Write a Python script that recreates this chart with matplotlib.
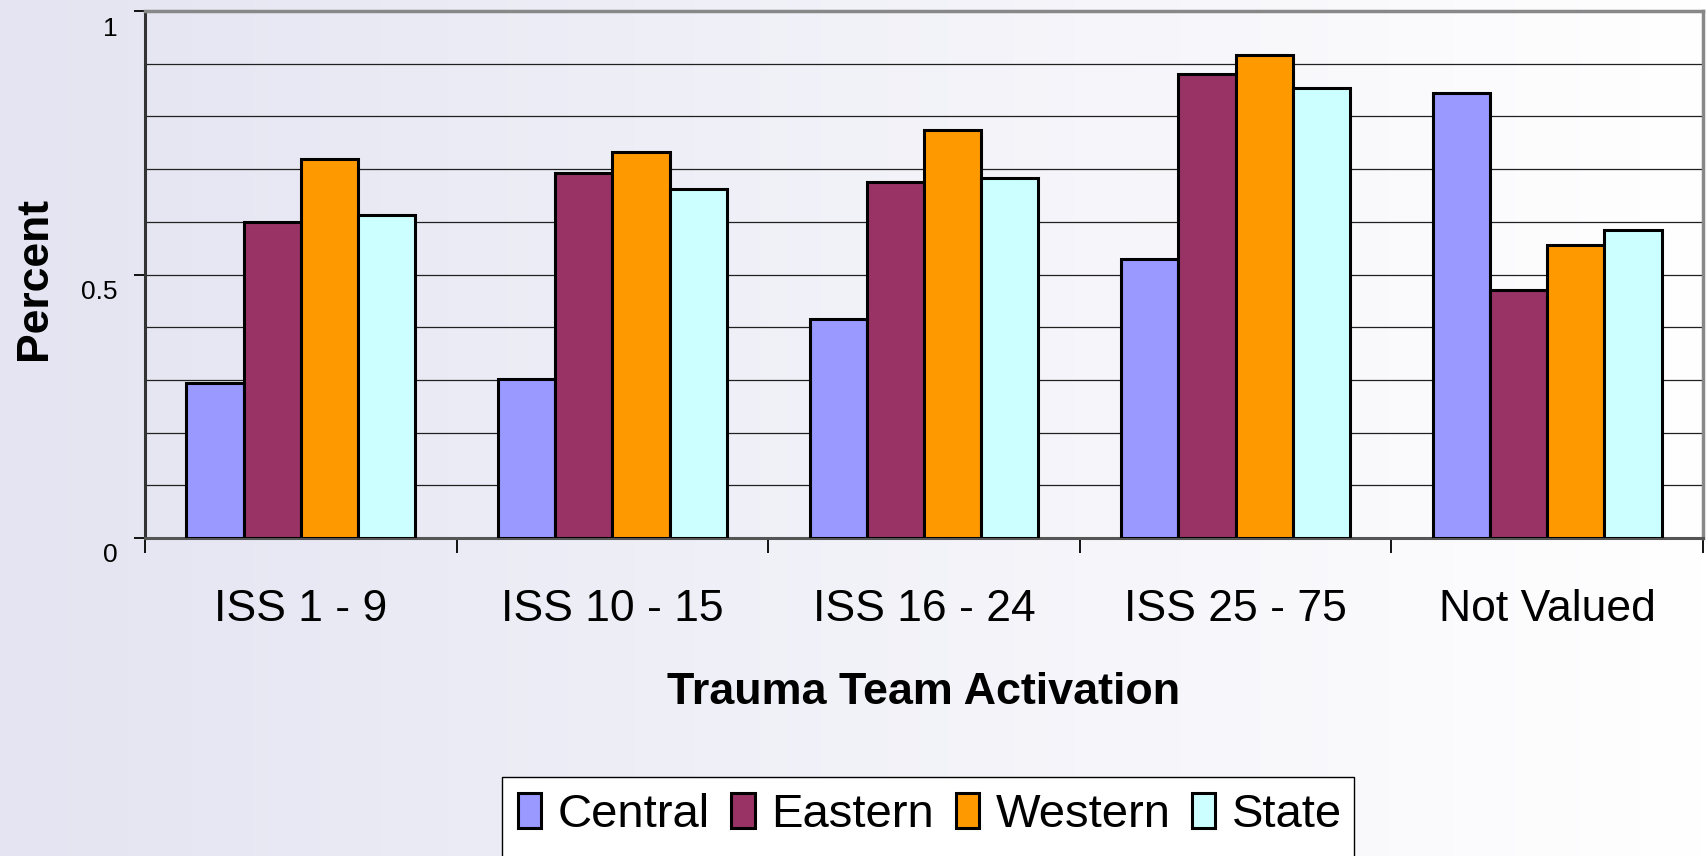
import numpy as np
import matplotlib
matplotlib.use("Agg")
import matplotlib.pyplot as plt
from matplotlib.patches import Rectangle
from matplotlib.transforms import ScaledTranslation

categories = ["ISS 1 - 9", "ISS 10 - 15", "ISS 16 - 24", "ISS 25 - 75", "Not Valued"]
central = [0.295, 0.302, 0.415, 0.529, 0.845]
eastern = [0.599, 0.692, 0.676, 0.880, 0.471]
western = [0.719, 0.733, 0.775, 0.917, 0.556]
state = [0.612, 0.663, 0.684, 0.853, 0.585]
series_names = ["Central", "Eastern", "Western", "State"]
colors = ["#9999FF", "#993366", "#FF9900", "#CCFFFF"]

plt.rcParams['font.family'] = ['Liberation Sans', 'DejaVu Sans']

fig = plt.figure(figsize=(17.08, 8.56), dpi=100)

# background gradient, lavender on the left fading to white on the right
bg = fig.add_axes([0, 0, 1, 1], zorder=-10)
grad = np.linspace(0, 1, 256).reshape(1, -1)
c0 = np.array([228, 228, 242]) / 255.0
c1 = np.array([255, 255, 255]) / 255.0
img = c0[None, None, :] * (1 - grad[..., None]) + c1[None, None, :] * grad[..., None]
bg.imshow(img, aspect='auto', extent=[0, 1, 0, 1])
bg.set_axis_off()

ax = fig.add_axes([145 / 1708, 1 - 538 / 856, (1703 - 145) / 1708, (538 - 11) / 856])
ax.patch.set_alpha(0)

x = np.arange(len(categories))
w = 0.1835
all_vals = [central, eastern, western, state]
for i, (vals, name, col) in enumerate(zip(all_vals, series_names, colors)):
    ax.bar(x + (i - 1.5) * w, vals, width=w, color=col, edgecolor='black',
           linewidth=2.2, label=name, zorder=3)

ax.set_xlim(-0.5, len(categories) - 0.5)
ax.set_ylim(0, 1)

# horizontal gridlines every 0.1
for g in np.arange(0.1, 1.0, 0.1):
    ax.axhline(g, color='#202020', linewidth=0.9, zorder=1)

ax.set_yticks([0, 0.5, 1])
ax.set_yticklabels(["0", "0.5", "1"], fontsize=19)
ax.tick_params(axis='y', length=8, width=1.3, color='black', pad=12)
# Excel drew the value labels a little below their ticks
for lab in ax.get_yticklabels():
    lab.set_transform(lab.get_transform() + ScaledTranslation(0, -15 / 100, fig.dpi_scale_trans))

ax.set_xticks(np.arange(-0.5, len(categories), 1.0))
ax.set_xticklabels([])
ax.set_xticks(x, minor=True)
ax.set_xticklabels(categories, minor=True, fontsize=32)
ax.tick_params(axis='x', which='major', length=11, width=1.3, color='black', direction='out')
ax.tick_params(axis='x', which='minor', length=0, pad=37)

for s in ['top', 'right']:
    ax.spines[s].set_color('#888888')
    ax.spines[s].set_linewidth(2.5)
ax.spines['left'].set_color('#333333')
ax.spines['left'].set_linewidth(2.2)
ax.spines['bottom'].set_color('#555555')
ax.spines['bottom'].set_linewidth(2.2)

ax.set_ylabel("Percent", fontsize=32, fontweight='bold')
ax.yaxis.set_label_coords(-0.058, 0.493)
ax.set_xlabel("Trauma Team Activation", fontsize=32.3, fontweight='bold', labelpad=30)

# legend box runs off the bottom edge of the figure
fig.patches.append(Rectangle((502 / 1708, -0.05), (1354 - 502) / 1708, 0.05 + (856 - 777) / 856,
                             transform=fig.transFigure, facecolor='white',
                             edgecolor='black', linewidth=1.0, zorder=0))
handles, labels = ax.get_legend_handles_labels()
leg = fig.legend(handles, labels, loc='center', bbox_to_anchor=(930 / 1708, 1 - 815 / 856),
                 ncol=4, frameon=False, handlelength=0.5, handleheight=0.75,
                 handletextpad=0.35, columnspacing=0.45,
                 prop={'family': ['Liberation Sans Narrow', 'Liberation Sans'], 'size': 34})

fig.savefig("out.png", dpi=100)
